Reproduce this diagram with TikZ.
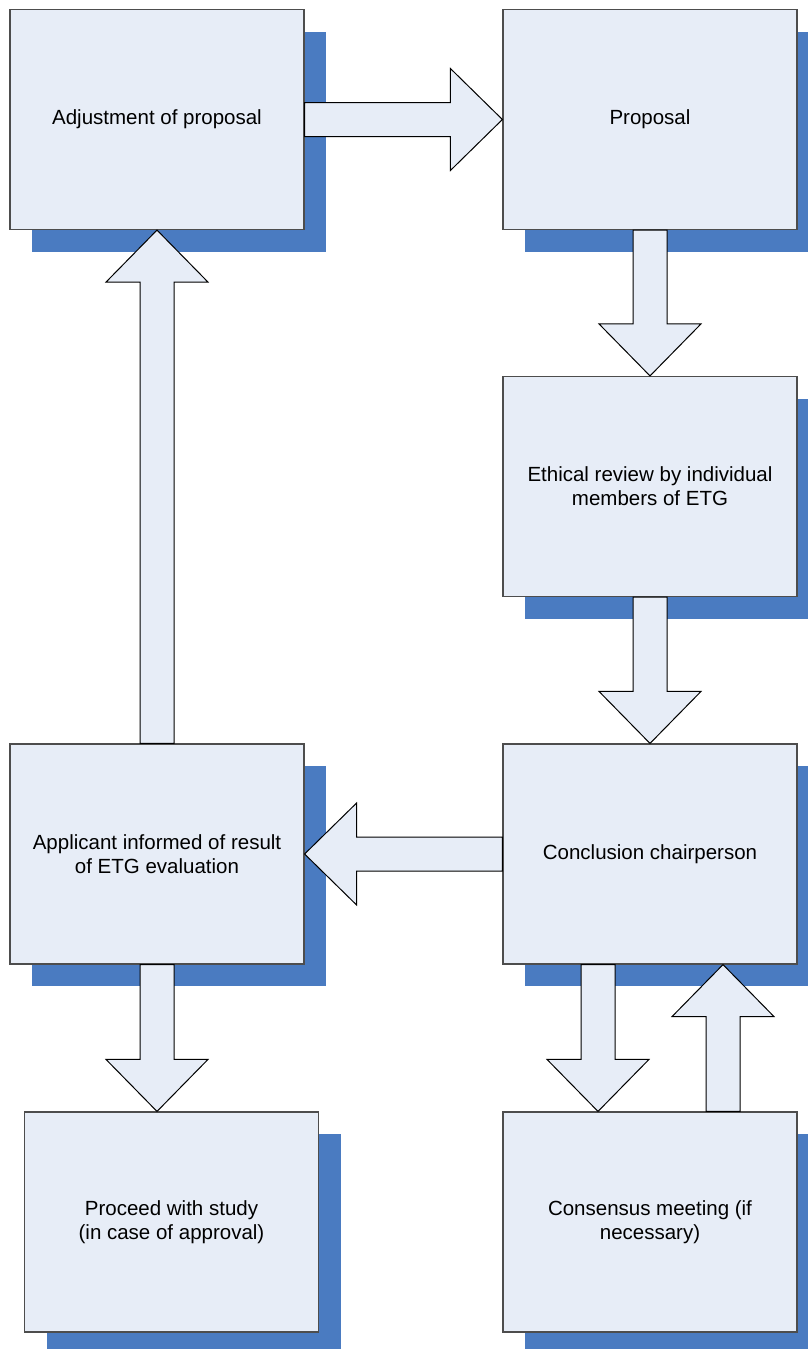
\documentclass[tikz,border=0pt]{standalone}
\usepackage{fontspec}
\setmainfont{Liberation Sans}
\usepackage{tikz}
\usetikzlibrary{calc, shadows}
\usepackage{xcolor}
\definecolor{boxfill}{HTML}{E7EDF7}
\definecolor{shadowblue}{HTML}{4A7BC1}
\definecolor{boxline}{HTML}{4D4D4D}

\begin{document}
\begin{tikzpicture}[x=0.5pt, y=-0.5pt,
		stagebox/.style={draw=boxline, line width=0.6pt, fill=boxfill, minimum width=147pt, minimum height=110pt, inner sep=0pt, align=center, font=\fontsize{10.25}{12}\selectfont, drop shadow={shadow xshift=11pt, shadow yshift=-11pt, fill=shadowblue, opacity=1}},
		fatarrow/.style={draw=black, line width=0.5pt, fill=boxfill, line join=miter}]
				\newcommand{\bigarrow}[3]{
					\coordinate (#3) at ($(#2)!26pt!(#1)$);
					\draw[fatarrow] ($(#1)!8.5pt!90:(#2)$) -- ($(#3)!8.5pt!-90:(#1)$) -- ($(#3)!25.5pt!-90:(#1)$) -- (#2) -- ($(#3)!25.5pt!90:(#1)$) -- ($(#3)!8.5pt!90:(#1)$) -- ($(#1)!8.5pt!-90:(#2)$) -- cycle;
				}%Page
				\useasboundingbox (0,0) rectangle (808,1349);
				%Centers of the boxes
				\coordinate (cAdjust) at (157,119.5);
				\coordinate (cProposal) at (650,119.5);
				\coordinate (cReview) at (650,486.5);
				\coordinate (cConclusion) at (650,854);
				\coordinate (cApplicant) at (157,854);
				\coordinate (cProceed) at (171.5,1222);
				\coordinate (cConsensus) at (650,1222);
				%The boxes
				\node [stagebox] (adjust) at (cAdjust) {Adjustment of proposal};
				\node [stagebox] (proposal) at (cProposal) {Proposal};
				\node [stagebox] (review) at (cReview) {Ethical review by individual\\members of ETG};
				\node [stagebox] (conclusion) at (cConclusion) {Conclusion chairperson};
				\node [stagebox] (applicant) at (cApplicant) {Applicant informed of result\\of ETG evaluation};
				\node [stagebox] (proceed) at (cProceed) {Proceed with study\\(in case of approval)};
				\node [stagebox] (consensus) at (cConsensus) {Consensus meeting (if\\necessary)};
				%Ends of the arrows that are off center
				\coordinate (proceedTop) at (applicant.south |- proceed.north);
				\coordinate (downStart) at ([xshift=-26pt]conclusion.south);
				\coordinate (downEnd) at (downStart |- consensus.north);
				\coordinate (upEnd) at ([xshift=36.5pt]conclusion.south);
				\coordinate (upStart) at (upEnd |- consensus.north);
				%The arrows
				\bigarrow{adjust.east}{proposal.west}{h1}
				\bigarrow{proposal.south}{review.north}{h2}
				\bigarrow{review.south}{conclusion.north}{h3}
				\bigarrow{conclusion.west}{applicant.east}{h4}
				\bigarrow{applicant.north}{adjust.south}{h5}
				\bigarrow{applicant.south}{proceedTop}{h6}
				\bigarrow{downStart}{downEnd}{h7}
				\bigarrow{upStart}{upEnd}{h8}
				\end{tikzpicture}
\end{document}
